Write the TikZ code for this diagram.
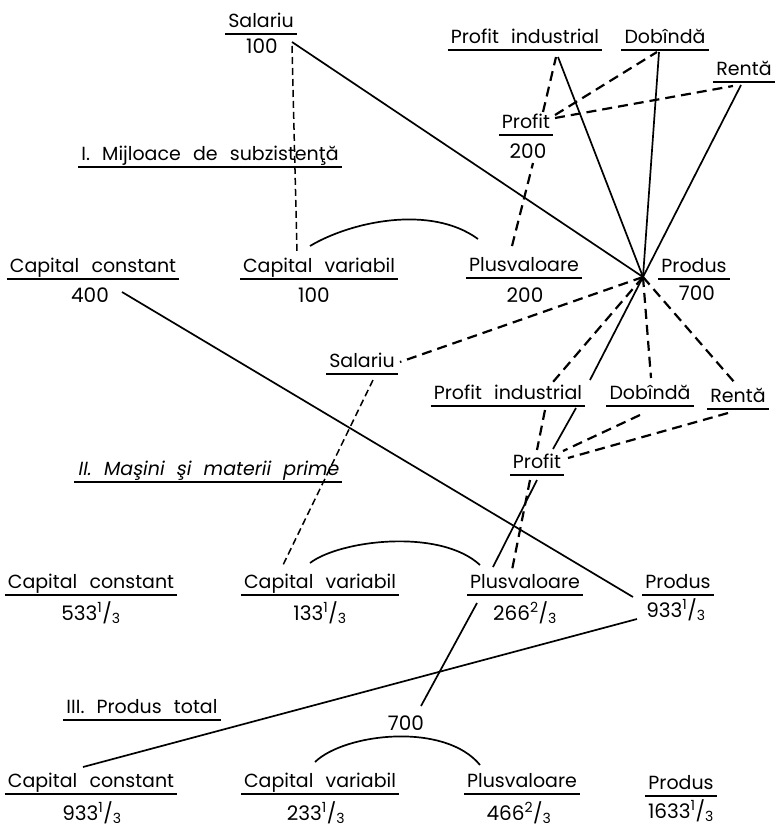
\documentclass[tikz,border=0pt]{standalone}
\usepackage{fontspec}
\setmainfont{Poppins}[WordSpace=2.4]
\newfontfamily\slfont{Poppins}[FakeSlant=0.18, WordSpace=2.4]
\newcommand{\frc}[2]{\textsuperscript{#1}/\textsubscript{#2}}
\tikzset{
  lab/.style={font=\fontsize{19}{22}\selectfont, inner sep=0pt, anchor=base},
  uline/.style={line width=1.6pt},
  ul/.style={lab, append after command={
      ([shift={(-3pt,-7pt)}]\tikzlastnode.base west) edge[uline]
      ([shift={(3pt,-7pt)}]\tikzlastnode.base east)}},
  num/.style={lab, font=\fontsize{20}{23}\selectfont},
  link/.style={line width=1.7pt},
  dlink/.style={line width=2.2pt, dash pattern=on 10pt off 6pt},
  thin dlink/.style={line width=1.5pt, dash pattern=on 7pt off 4pt}
}

\begin{document}
\begin{tikzpicture}[x=1pt, y=-1pt]
  \useasboundingbox (0,0) rectangle (778,828);

  % top: shares of the surplus
  \node[ul] (sal0) at (261,27) {Salariu};
  \node[num] (sal0v) at (262,53) {100};
  \node[ul] (pind0) at (525,43) {Profit industrial};
  \node[ul] (dob0) at (665,43) {Dobîndă};
  \node[ul] (ren0) at (744,75) {Rentă};
  \node[ul] (pf0) at (526,128) {Profit};
  \node[num] (pf0v) at (528,158) {200};

  % I
  \node[ul] (head1) at (210,160) {I. Mijloace de subzistenţă};
  \node[ul] (cc1) at (93,272) {Capital constant};
  \node[num] (cc1v) at (90,302) {400};
  \node[ul] (cv1) at (319,272) {Capital variabil};
  \node[num] (cv1v) at (314,302) {100};
  \node[ul] (pv1) at (524,271) {Plusvaloare};
  \node[num] (pv1v) at (525,302) {200};
  \node[ul] (pr1) at (694,272) {Produs};
  \node[num] (pr1v) at (697,300) {700};
  \coordinate (hub) at (643,277);

  % middle: shares again
  \node[ul] (sal2) at (362,367) {Salariu};
  \node[ul] (pind2) at (508,399) {Profit industrial};
  \node[ul] (dob2) at (650,399) {Dobîndă};
  \node[ul] (ren2) at (738,402) {Rentă};
  \node[ul] (pf2) at (537,468) {Profit};

  % II
  \node[ul] (head2) at (208,475) {\slfont II. Maşini şi materii prime};
  \node[ul] (cc2) at (91,588) {Capital constant};
  \node[num] (cc2v) at (91,620) {533\frc{1}{3}};
  \node[ul] (cv2) at (320,588) {Capital variabil};
  \node[num] (cv2v) at (320,620) {133\frc{1}{3}};
  \node[ul] (pv2) at (525,588) {Plusvaloare};
  \node[num] (pv2v) at (525,620) {266\frc{2}{3}};
  \node[ul] (pr2) at (678,588) {Produs};
  \node[num] (pr2v) at (676,617) {933\frc{1}{3}};

  % III
  \node[ul] (head3) at (142,713) {III. Produs total};
  \node[num] (t700) at (406,730) {700};
  \node[ul] (cc3) at (91,787) {Capital constant};
  \node[num] (cc3v) at (92,820) {933\frc{1}{3}};
  \node[ul] (cv3) at (320,787) {Capital variabil};
  \node[num] (cv3v) at (316,820) {233\frc{1}{3}};
  \node[ul] (pv3) at (522,787) {Plusvaloare};
  \node[num] (pv3v) at (519,820) {466\frc{2}{3}};
  \node[ul] (pr3) at (681,789) {Produs};
  \node[num] (pr3v) at (681,818) {1633\frc{1}{3}};

  % links of I
  \draw[link] ([shift={(30pt,11pt)}]sal0v.base) -- (hub);
  \draw[thin dlink] ([shift={(30pt,7pt)}]sal0v.base) -- ([shift={(-22pt,20pt)}]cv1.base);
  \draw[link] ([shift={(-9pt,26pt)}]cv1.base) .. controls +(40pt,24pt) and +(-48pt,35pt) .. ([shift={(-46pt,32pt)}]pv1.base);
  \draw[dlink] ([shift={(-12pt,25pt)}]pv1.base) -- ([shift={(5pt,-5pt)}]pf0v.base);
  \draw[dlink] ([shift={(17pt,16pt)}]pf0.base) -- ([shift={(31pt,-14pt)}]pind0.base);
  \draw[dlink] ([shift={(29pt,13pt)}]pf0.base) -- ([shift={(-8pt,-9pt)}]dob0.base);
  \draw[dlink] ([shift={(29pt,10pt)}]pf0.base) -- ([shift={(-11pt,-11pt)}]ren0.base);
  \draw[link] ([shift={(33pt,-14pt)}]pind0.base) -- (hub);
  \draw[link] ([shift={(-6pt,-9pt)}]dob0.base) -- (hub);
  \draw[link] ([shift={(-3pt,-10pt)}]ren0.base) -- (hub);

  % links of II
  \draw[dlink] (hub) -- ([shift={(38pt,5pt)}]sal2.base);
  \draw[dlink] (hub) -- ([shift={(45pt,17pt)}]pind2.base);
  \draw[link] (hub) -- ([shift={(82pt,19pt)}]pind2.base);
  \draw[dlink] (hub) -- ([shift={(1pt,21pt)}]dob2.base);
  \draw[dlink] (hub) -- ([shift={(-3pt,19pt)}]ren2.base);
  \draw[dlink] ([shift={(37pt,-11pt)}]pind2.base) -- ([shift={(0pt,18pt)}]pf2.base);
  \draw[link] ([shift={(68pt,-9pt)}]pind2.base) -- ([shift={(16pt,19pt)}]pf2.base);
  \draw[dlink] ([shift={(-10pt,-16pt)}]dob2.base) -- ([shift={(26pt,17pt)}]pf2.base);
  \draw[dlink] ([shift={(-10pt,-11pt)}]ren2.base) -- ([shift={(31pt,10pt)}]pf2.base);
  \draw[dlink] ([shift={(-7pt,-12pt)}]pf2.base) -- ([shift={(-13pt,18pt)}]pv2.base);
  \draw[link] ([shift={(0pt,-12pt)}]pf2.base) -- ([shift={(-32pt,21pt)}]pv2.base);
  \draw[thin dlink] ([shift={(11pt,-13pt)}]sal2.base) -- ([shift={(-37pt,23pt)}]cv2.base);
  \draw[link] ([shift={(32pt,10pt)}]cc1v.base) -- ([shift={(-45pt,-9pt)}]pr2.base);
  \draw[link] ([shift={(-10pt,25pt)}]cv2.base) .. controls +(30pt,23pt) and +(-40pt,37pt) .. ([shift={(-45pt,23pt)}]pv2.base);

  % links of III
  \draw[link] ([shift={(-39pt,-2pt)}]pr2v.base) -- ([shift={(-8pt,20pt)}]cc3.base);
  \draw[link] ([shift={(-48pt,17pt)}]pv2v.base) -- ([shift={(15pt,24pt)}]t700.base);
  \draw[link] ([shift={(-5pt,25pt)}]cv3.base) .. controls +(30pt,29pt) and +(-35pt,43pt) .. ([shift={(-42pt,22pt)}]pv3.base);
\end{tikzpicture}
\end{document}
